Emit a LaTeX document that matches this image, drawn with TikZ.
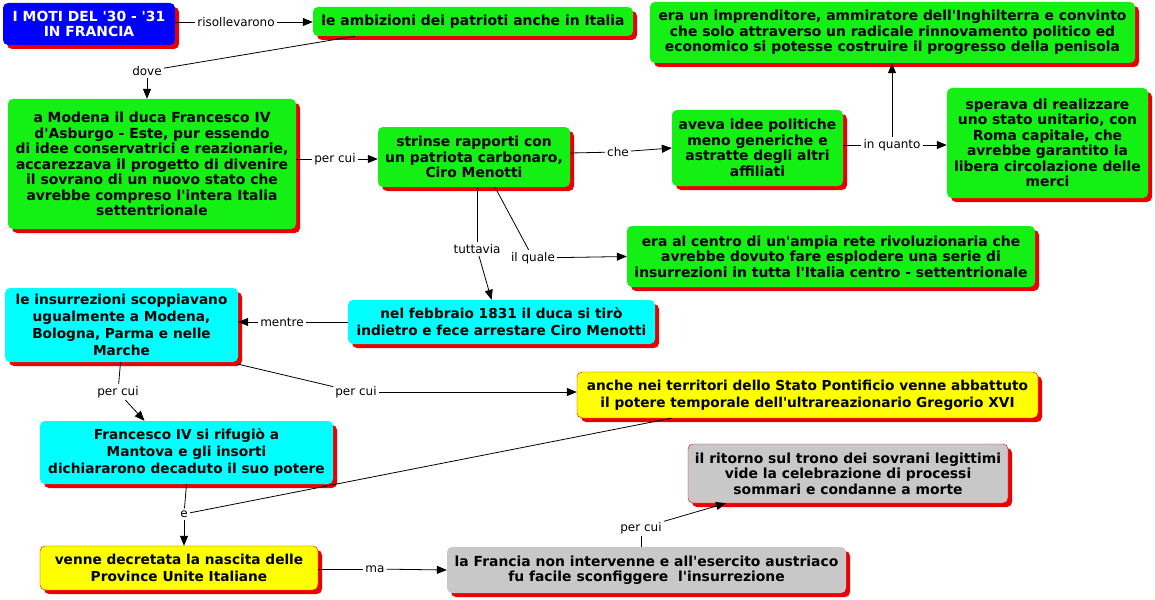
\documentclass[tikz,border=0pt]{standalone}
\usepackage{fontspec}
\setmainfont{DejaVu Sans}[Ligatures=TeXOff]
\usetikzlibrary{arrows.meta,shadows}
\definecolor{cgreen}{RGB}{20,240,20}
\definecolor{ccyan}{RGB}{0,255,255}
\definecolor{cyellow}{RGB}{255,255,0}
\definecolor{cgray}{RGB}{200,200,200}
\definecolor{cblue}{RGB}{0,0,255}
\definecolor{cred}{RGB}{235,0,0}
\tikzset{
  box/.style={rounded corners=5pt, align=center, inner sep=0pt,
    font=\bfseries\fontsize{13.9}{15.5}\selectfont,
    drop shadow={shadow xshift=4pt, shadow yshift=-4pt, fill=cred, opacity=1}},
  greenbox/.style={box, fill=cgreen},
  cyanbox/.style={box, fill=ccyan, font=\bfseries\fontsize{13.7}{17}\selectfont},
  yellowbox/.style={box, fill=cyellow, draw=cred, font=\bfseries\fontsize{13.7}{17}\selectfont},
  graybox/.style={box, fill=cgray},
  lbl/.style={font=\fontsize{12}{13}\selectfont, inner sep=2pt},
  link/.style={line width=0.8pt},
  arr/.style={link, -{Triangle[length=10pt,width=8pt]}}
}
\begin{document}
\begin{tikzpicture}[x=1pt,y=-1pt]
\useasboundingbox (0,0) rectangle (1155,599);
\node[box, fill=cblue, text=white, minimum width=172pt, minimum height=42pt] (moti) at (89,24) {I MOTI DEL '30 - '31\\IN FRANCIA};
\node[greenbox, minimum width=320pt, minimum height=29pt] (ambizioni) at (473,21.5) {le ambizioni dei patrioti anche in Italia};
\node[greenbox, minimum width=288pt, minimum height=130pt] (modena) at (152,164) {a Modena il duca Francesco IV\\d'Asburgo - Este, pur essendo\\di idee conservatrici e reazionarie,\\accarezzava il progetto di divenire\\il sovrano di un nuovo stato che\\avrebbe compreso l'intera Italia\\settentrionale};
\node[greenbox, minimum width=192pt, minimum height=60pt] (menotti) at (474,157) {strinse rapporti con\\un patriota carbonaro,\\Ciro Menotti};
\node[greenbox, minimum width=171pt, minimum height=76pt] (idee) at (757.5,148) {aveva idee politiche\\meno generiche e\\astratte degli altri\\affiliati};
\node[greenbox, minimum width=485pt, minimum height=61pt] (imprenditore) at (892.5,32.5) {era un imprenditore, ammiratore dell'Inghilterra e convinto\\che solo attraverso un radicale rinnovamento politico ed\\economico si potesse costruire il progresso della penisola};
\node[greenbox, minimum width=201pt, minimum height=110pt] (stato) at (1047.5,143) {sperava di realizzare\\uno stato unitario, con\\Roma capitale, che\\avrebbe garantito la\\libera circolazione delle\\merci};
\node[greenbox, minimum width=408pt, minimum height=61pt] (rete) at (831,256.5) {era al centro di un'ampia rete rivoluzionaria che\\avrebbe dovuto fare esplodere una serie di\\insurrezioni in tutta l'Italia centro - settentrionale};
\node[cyanbox, minimum width=307pt, minimum height=44pt] (febbraio) at (501.5,322) {nel febbraio 1831 il duca si tirò\\indietro e fece arrestare Ciro Menotti};
\node[cyanbox, minimum width=233pt, minimum height=74pt] (insurrezioni) at (121.5,325) {le insurrezioni scoppiavano\\ugualmente a Modena,\\Bologna, Parma e nelle\\Marche};
\node[yellowbox, minimum width=461pt, minimum height=46pt] (pontificio) at (807.5,395) {anche nei territori dello Stato Pontificio venne abbattuto\\il potere temporale dell'ultrareazionario Gregorio XVI};
\node[cyanbox, minimum width=293pt, minimum height=63pt] (mantova) at (186.5,452.5) {Francesco IV si rifugiò a\\Mantova e gli insorti\\dichiararono decaduto il suo potere};
\node[graybox, draw=cred, minimum width=320pt, minimum height=59pt] (ritorno) at (848,473.5) {il ritorno sul trono dei sovrani legittimi\\vide la celebrazione di processi\\sommari e condanne a morte};
\node[yellowbox, minimum width=278pt, minimum height=44pt] (province) at (179,568) {venne decretata la nascita delle\\Province Unite Italiane};
\node[graybox, minimum width=399pt, minimum height=46pt] (francia) at (646.5,570) {la Francia non intervenne e all'esercito austriaco\\fu facile sconfiggere\ \ l'insurrezione};

\node[lbl] (l1) at (236,22) {risollevarono};
\node[lbl] (l2) at (147,71) {dove};
\node[lbl] (l3) at (335,159) {per cui};
\node[lbl] (l4) at (618,152) {che};
\node[lbl] (l5) at (892,145) {in quanto};
\node[lbl] (l6) at (477,249) {tuttavia};
\node[lbl] (l7) at (533,258) {il quale};
\node[lbl] (l8) at (282,322) {mentre};
\node[lbl] (l9) at (118,392) {per cui};
\node[lbl] (l10) at (356,392) {per cui};
\node[lbl] (l11) at (184,514) {e};
\node[lbl] (l12) at (375,569) {ma};
\node[lbl] (l13) at (641,528) {per cui};

\draw[link] (moti.east |- l1) -- (l1);
\draw[arr] (l1) -- (l1 -| ambizioni.west);
\draw[link] ([xshift=-118pt]ambizioni.south) -- (l2);
\draw[arr] (l2) -- (l2 |- modena.north);
\draw[link] (l3 -| modena.east) -- (l3);
\draw[arr] (l3) -- (l3 -| menotti.west);
\draw[link] ([yshift=4pt]menotti.east) -- (l4);
\draw[arr] (l4) -- (idee.west);
\draw[link] (l5 -| idee.east) -- (l5);
\draw[arr] (l5) -- (l5 -| stato.west);
\draw[arr] (l5) -- (l5 |- imprenditore.south);
\draw[link] ([xshift=3pt]menotti.south) -- (l6);
\draw[arr] (l6) -- ([xshift=-10pt]febbraio.north);
\draw[link] ([xshift=21pt]menotti.south) -- (l7);
\draw[arr] (l7) -- (rete.west);
\draw[link] (febbraio.west) -- (l8);
\draw[arr] (l8) -- (l8 -| insurrezioni.east);
\draw[link] ([xshift=-1pt]insurrezioni.south) -- (l9);
\draw[arr] (l9) -- ([xshift=-42pt]mantova.north);
\draw[link] ([yshift=-2pt]insurrezioni.south east) -- (l10);
\draw[arr] (l10) -- (l10 -| pontificio.west);
\draw[link] (mantova.south) -- (l11);
\draw[link] ([xshift=-136pt]pontificio.south) -- (l11);
\draw[arr] (l11) -- (l11 |- province.north);
\draw[link] (l12 -| province.east) -- (l12);
\draw[arr] (l12) -- (francia.west);
\draw[link] (l13 |- francia.north) -- (l13);
\draw[arr] (l13) -- ([xshift=-122pt]ritorno.south);
\end{tikzpicture}
\end{document}
